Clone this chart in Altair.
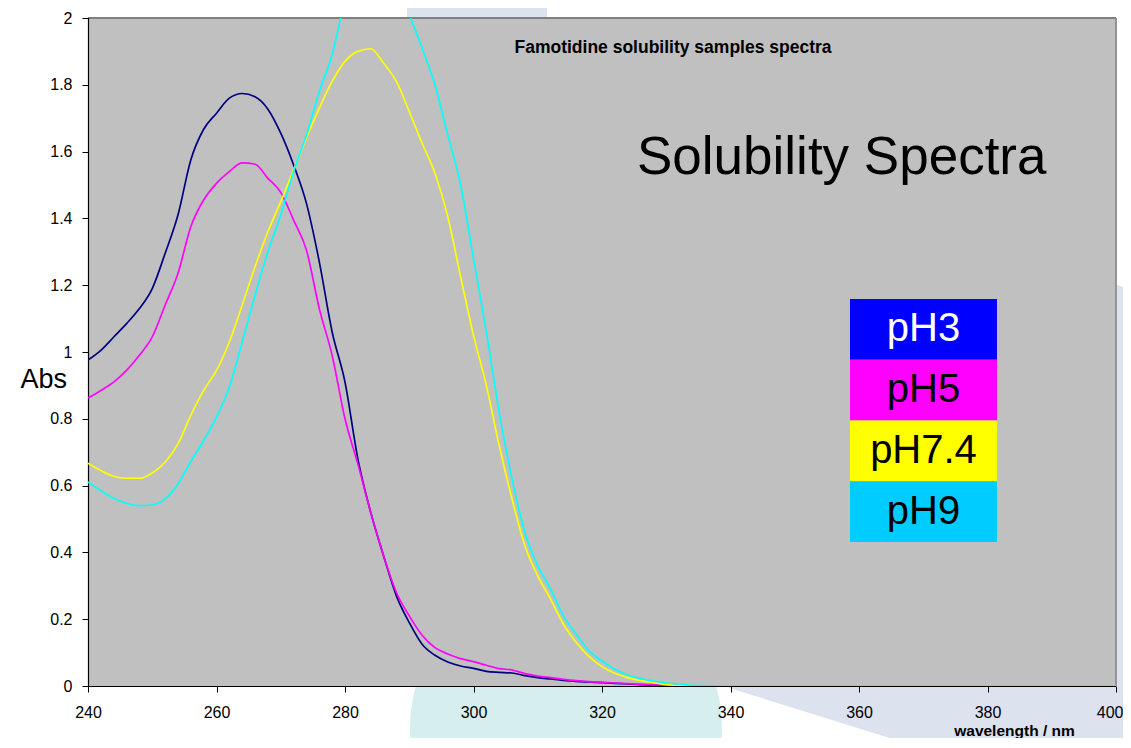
import altair as alt
import pandas as pd

# ---------------- data ----------------
wavelengths = list(range(240, 337, 2)) + [340, 350, 360, 370, 380, 390, 400]

ph3 = [0.976, 1.005, 1.045, 1.085, 1.13, 1.19, 1.295, 1.41, 1.575, 1.667,
       1.715, 1.76, 1.774, 1.764, 1.727, 1.655, 1.56, 1.445, 1.27, 1.06,
       0.91, 0.68, 0.52, 0.39, 0.27, 0.19, 0.125, 0.092, 0.072, 0.06,
       0.053, 0.044, 0.041, 0.039, 0.031, 0.025, 0.021, 0.017, 0.014, 0.012,
       0.01, 0.008, 0.006, 0.004, 0.003, 0.002, 0.001, 0.0, 0.0,
       0, 0, 0, 0, 0, 0, 0]

ph5 = [0.862, 0.885, 0.91, 0.945, 0.99, 1.045, 1.14, 1.235, 1.375, 1.455,
       1.505, 1.54, 1.566, 1.562, 1.52, 1.478, 1.395, 1.305, 1.13, 0.99,
       0.80, 0.665, 0.52, 0.39, 0.28, 0.21, 0.152, 0.115, 0.096, 0.082,
       0.073, 0.062, 0.052, 0.048, 0.037, 0.03, 0.025, 0.02, 0.016, 0.013,
       0.011, 0.009, 0.007, 0.005, 0.004, 0.002, 0.001, 0.0, 0.0,
       0, 0, 0, 0, 0, 0, 0]

ph74 = [0.667, 0.645, 0.628, 0.622, 0.622, 0.638, 0.67, 0.725, 0.81, 0.885,
        0.945, 1.03, 1.14, 1.255, 1.36, 1.45, 1.545, 1.64, 1.73, 1.81,
        1.87, 1.90, 1.908, 1.865, 1.81, 1.72, 1.625, 1.535, 1.405, 1.225,
        1.05, 0.9, 0.72, 0.56, 0.42, 0.33, 0.26, 0.185, 0.13, 0.088,
        0.058, 0.038, 0.025, 0.016, 0.01, 0.004, 0.002, 0.001, 0.0,
        0, 0, 0, 0, 0, 0, 0]

ph9 = [0.611, 0.585, 0.562, 0.547, 0.54, 0.542, 0.56, 0.605, 0.672, 0.735,
       0.805, 0.895, 1.03, 1.17, 1.30, 1.41, 1.54, 1.65, 1.78, 1.89,
       2.05, 2.13, 2.17, 2.16, 2.10, 2.01, 1.91, 1.80, 1.65, 1.50,
       1.28, 1.06, 0.82, 0.62, 0.46, 0.36, 0.29, 0.21, 0.155, 0.105,
       0.075, 0.05, 0.033, 0.022, 0.015, 0.009, 0.006, 0.002, 0.001,
       0, 0, 0, 0, 0, 0, 0]

series_names = ["pH3", "pH5", "pH7.4", "pH9"]
line_colors = ["#000080", "#FF00FF", "#FFFF00", "#00FFFF"]
legend_fills = ["#0000FF", "#FF00FF", "#FFFF00", "#00CCFF"]
legend_text_colors = ["#FFFFFF", "#000000", "#000000", "#000000"]

x_ticks = [240, 260, 280, 300, 320, 340, 360, 380, 400]
y_ticks = [0, 0.2, 0.4, 0.6, 0.8, 1.0, 1.2, 1.4, 1.6, 1.8, 2.0]

chart_title = "Famotidine solubility samples spectra"
big_label = "Solubility Spectra"

# ---------------- tables ----------------
rows = []
for name, vals in zip(series_names, [ph3, ph5, ph74, ph9]):
    assert len(vals) == len(wavelengths), (name, len(vals), len(wavelengths))
    for w, v in zip(wavelengths, vals):
        rows.append({"wavelength": w, "abs": v, "series": name})
df = pd.DataFrame(rows)

legend_df = pd.DataFrame({
    "label": series_names,
    "fill": legend_fills,
    "tcolor": legend_text_colors,
})

FONT = "Liberation Sans"
W, H = 1028, 668
PLOT_BG = "#C0C0C0"
LAVENDER = "#DCE2EE"
TEAL = "#D6EFEE"

one = pd.DataFrame({"k": [0]})

# ---------------- slide decorations (behind the plot) ----------------
deco_square = alt.Chart(one).mark_point(
    shape="square", filled=True, angle=17.3, size=250000,
    color=LAVENDER, opacity=1, strokeWidth=0
).encode(x=alt.value(875), y=alt.value(481))

deco_top = alt.Chart(one).mark_rect(color=LAVENDER).encode(
    x=alt.value(319), x2=alt.value(459), y=alt.value(-18), y2=alt.value(0))

deco_right = alt.Chart(one).mark_rect(color=LAVENDER).encode(
    x=alt.value(1029), x2=alt.value(1045), y=alt.value(330), y2=alt.value(740))

deco_circle = alt.Chart(one).mark_circle(
    size=97344, color=TEAL, opacity=1
).encode(x=alt.value(478), y=alt.value(710))

# ---------------- plot frame ----------------
plot_bg = alt.Chart(one).mark_rect(color=PLOT_BG).encode(
    x=alt.value(1), x2=alt.value(W), y=alt.value(0), y2=alt.value(H))

border_top = alt.Chart(one).mark_rule(color="#808080", strokeWidth=2).encode(
    x=alt.value(0), x2=alt.value(W), y=alt.value(0))
border_right = alt.Chart(one).mark_rule(color="#808080", strokeWidth=1.5).encode(
    x=alt.value(W), y=alt.value(0), y2=alt.value(H))
axis_left = alt.Chart(one).mark_rule(color="black", strokeWidth=1.2).encode(
    x=alt.value(0.5), y=alt.value(0), y2=alt.value(H + 1))
axis_bottom = alt.Chart(one).mark_rule(color="black", strokeWidth=1.2).encode(
    x=alt.value(0), x2=alt.value(W), y=alt.value(H + 0.5))

# ---------------- spectra ----------------
lines = alt.Chart(df).mark_line(clip=True, strokeWidth=1.7, interpolate="monotone").encode(
    x=alt.X("wavelength:Q",
            scale=alt.Scale(domain=[240, 400], nice=False, zero=False),
            axis=alt.Axis(values=x_ticks, format="d", title="wavelength / nm",
                          titleFontWeight="bold", titleFontSize=15.5,
                          titleX=926, titleY=49, titleAlign="center",
                          titleBaseline="alphabetic",
                          tickSize=6, labelFontSize=16, labelPadding=12,
                          labelAlign={"expr": "datum.value == 400 ? 'right' : 'center'"},
                          labelOffset={"expr": "datum.value == 400 ? 7 : 0"},
                          labelFlush=False, labelOverlap=False, labelBound=False,
                          domain=False,
                          tickColor="black", labelColor="black",
                          titleColor="black", grid=False, zindex=1)),
    y=alt.Y("abs:Q",
            scale=alt.Scale(domain=[0, 2], nice=False),
            axis=alt.Axis(values=y_ticks, format="~g", title="Abs",
                          titleAngle=0, titleFontSize=27, titleFontWeight="normal",
                          titleX=-68, titleY=369, titleAlign="left",
                          titleBaseline="alphabetic",
                          tickSize=6, labelFontSize=16, labelPadding=10,
                          labelFlush=False, labelOverlap=False, domain=False,
                          tickColor="black", labelColor="black",
                          titleColor="black", grid=False, zindex=1)),
    color=alt.Color("series:N", scale=alt.Scale(domain=series_names, range=line_colors),
                    legend=None),
    detail="series:N",
)

# ---------------- colour-block legend ----------------
band_y = alt.Y("label:N", sort=series_names,
               scale=alt.Scale(domain=series_names, range=[281, 524],
                               paddingInner=0, paddingOuter=0),
               axis=None)

legend_boxes = alt.Chart(legend_df).mark_rect().encode(
    x=alt.value(762), x2=alt.value(909),
    y=band_y,
    color=alt.Color("fill:N", scale=None),
)

legend_text = alt.Chart(legend_df).mark_text(
    font=FONT, fontSize=40, align="center", baseline="alphabetic", dy=12
).encode(
    x=alt.value(835.5),
    y=band_y,
    text="label:N",
    color=alt.Color("tcolor:N", scale=None),
)

# ---------------- texts ----------------
title_txt = alt.Chart(pd.DataFrame({"t": [chart_title]})).mark_text(
    font=FONT, fontSize=17.5, fontWeight="bold", align="center", baseline="alphabetic",
    color="black"
).encode(x=alt.value(585), y=alt.value(35), text="t:N")

big_txt = alt.Chart(pd.DataFrame({"t": [big_label]})).mark_text(
    font=FONT, fontSize=53, align="left", baseline="alphabetic", color="black"
).encode(x=alt.value(549), y=alt.value(156), text="t:N")

chart = alt.layer(
    deco_square, deco_top, deco_right, deco_circle,
    plot_bg, border_top, border_right, axis_left, axis_bottom,
    lines, legend_boxes, legend_text, title_txt, big_txt
).resolve_scale(
    y="independent", color="independent"
).properties(
    width=W, height=H,
    padding={"left": 80, "top": 10, "right": 7, "bottom": 52},
    autosize=alt.AutoSizeParams(type="none"),
    background="white",
).configure_view(
    stroke=None
).configure(font=FONT)

chart.save("out.html", embed_options={"renderer": "svg", "actions": False})
